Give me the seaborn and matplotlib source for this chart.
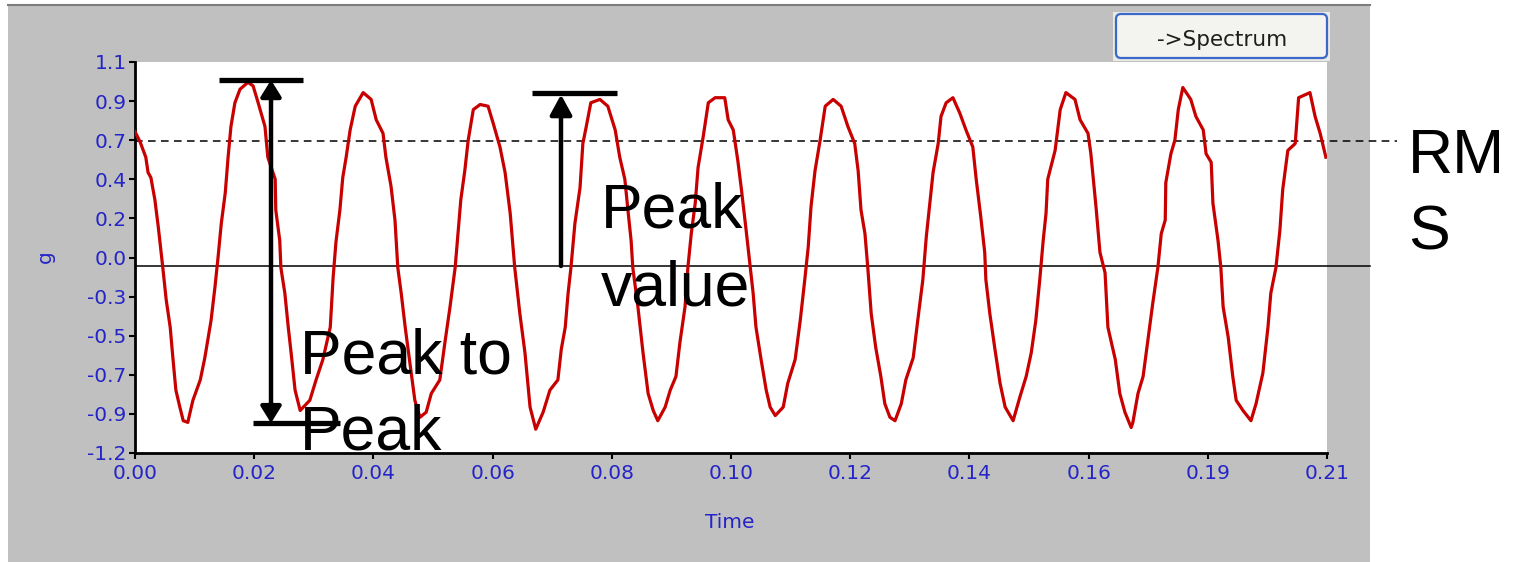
import numpy as np
import pandas as pd
import matplotlib
matplotlib.use("Agg")
import matplotlib.pyplot as plt
import seaborn as sns
from matplotlib.patches import Rectangle, FancyBboxPatch
from matplotlib.lines import Line2D
from matplotlib.transforms import IdentityTransform

# ---------------- data ----------------
time_ms = [
    0, 0.9, 1.9, 2.3, 2.8, 3.5, 4.1, 4.6, 4.9, 5.5,
    6.2, 6.7, 7.2, 7.9, 8.5, 9.3, 10.2, 11.5, 12.3, 13.4,
    14.1, 14.6, 15.2, 15.9, 16.4, 16.9, 17.6, 18.5, 19.9, 20.8,
    21.7, 22.9, 23.4, 24.7, 24.8, 25.5, 25.7, 26.4, 27.0, 27.5,
    28.2, 29.1, 30.8, 31.9, 33.1, 34.4, 34.9,
    35.4, 36.1, 36.6, 37.2, 37.9, 38.8, 40.2, 41.6, 42.5, 43.7,
    44.2, 45.1, 45.8, 46.3, 46.9, 47.6, 48.5, 49.3, 50.2, 51.3,
    52.2, 53.7, 54.6, 55.5, 56.4, 56.9, 57.4, 58.1, 58.7, 59.6,
    60.8, 62.2, 63.1, 64.3, 65.2, 66.1, 66.9, 67.8, 68.7, 69.6,
    70.6, 71.9, 73.1, 74.5, 75.1, 75.8, 76.3, 76.8, 77.5, 78.4,
    78.9, 79.5, 80.3, 81.9, 83.3, 84.6, 85.4, 86.3, 86.9, 87.4,
    87.7, 88.6, 89.5, 90.4, 91.3, 92.1, 93.4, 94.3, 95.3, 96.0,
    96.9, 97.4, 98.0, 98.7, 99.2, 100.1, 101.0, 102.2, 103.9, 104.5,
    105.4,
    106.2, 106.8, 107.6, 108.4, 108.9, 109.4, 110.3, 111.2, 111.9, 112.8,
    114.2, 115.0, 116.3, 117.2, 118.0, 118.6, 119.1, 119.8, 120.7, 121.6,
    123.0, 124.4, 125.6, 126.8, 127.4, 127.9, 128.6, 129.1, 129.7, 130.5,
    131.4, 132.1, 133.0, 133.9, 135.0, 135.8, 137.1, 137.9, 138.8, 139.4,
    140.1,
    140.6, 141.5, 142.0, 142.9, 144.1, 145.3, 146.4, 147.6, 148.2, 149.0,
    149.7, 149.9, 150.6, 151.5, 152.4, 153.3, 154.7, 155.9, 157.0, 157.9,
    158.7, 159.4, 160.0, 160.5, 160.8, 162.1, 163.0, 164.0, 165.6, 166.5,
    167.9, 168.4, 169.3, 170.0, 170.9, 171.4, 172.7, 173.5, 174.4, 175.5,
    175.8, 176.7, 177.6, 178.5, 179.3, 180.2, 180.8, 181.5, 181.6, 182.5,
    183.2, 183.8, 184.6, 186.0, 186.9, 188.2, 188.7, 189.6, 189.9, 190.8,
    191.3, 191.7, 192.6, 193.4, 194.0, 195.2, 196.6, 197.5, 198.7, 199.6,
    200.1, 201.0, 201.7, 202.2, 203.1, 204.4, 205.0, 207.0, 207.9, 208.8,
    209.8,
]
accel_g = [
    0.69, 0.63, 0.54, 0.45, 0.42, 0.29, 0.13, -0.02, -0.11, -0.30,
    -0.46, -0.65, -0.83, -0.93, -1.01, -1.02, -0.89, -0.77, -0.64, -0.42,
    -0.22, -0.06, 0.15, 0.33, 0.54, 0.72, 0.86, 0.94, 0.98, 0.96,
    0.86, 0.72, 0.54, 0.41, 0.23, 0.05, -0.11, -0.26, -0.46, -0.61,
    -0.83, -0.95, -0.89, -0.77, -0.65, -0.46, -0.17,
    0.04, 0.23, 0.42, 0.54, 0.70, 0.84, 0.92, 0.88, 0.76, 0.68,
    0.54, 0.37, 0.17, -0.11, -0.26, -0.46, -0.69, -0.89, -0.99, -0.96,
    -0.85, -0.77, -0.55, -0.34, -0.11, 0.09, 0.29, 0.46, 0.64, 0.82,
    0.85, 0.84, 0.74, 0.60, 0.45, 0.21, -0.11, -0.38, -0.61, -0.93,
    -1.06, -0.96, -0.83, -0.77, -0.59, -0.46, -0.26, -0.11, 0.15, 0.36,
    0.62, 0.72, 0.86, 0.88, 0.84, 0.70, 0.54, 0.41, 0.21, 0.05,
    -0.11, -0.34, -0.61, -0.85, -0.95, -1.01, -0.93, -0.83, -0.75, -0.55,
    -0.34, -0.11, 0.09, 0.27, 0.48, 0.66, 0.86, 0.89, 0.89, 0.76,
    0.70,
    0.52, 0.36, 0.13, -0.11, -0.26, -0.46, -0.65, -0.83, -0.93, -0.98,
    -0.93, -0.79, -0.65, -0.42, -0.18, 0.01, 0.25, 0.46, 0.64, 0.84,
    0.88, 0.84, 0.72, 0.62, 0.46, 0.23, 0.09, -0.11, -0.38, -0.58,
    -0.75, -0.91, -0.99, -1.01, -0.91, -0.77, -0.64, -0.42, -0.18, 0.07,
    0.29,
    0.45, 0.62, 0.78, 0.86, 0.89, 0.80, 0.70, 0.60, 0.41, 0.19,
    -0.02, -0.18, -0.38, -0.59, -0.79, -0.93, -1.01, -0.87, -0.75, -0.61,
    -0.42, -0.18, 0.05, 0.21, 0.41, 0.58, 0.82, 0.92, 0.88, 0.76,
    0.68, 0.56, 0.25, -0.02, -0.14, -0.46, -0.65, -0.85, -0.96, -1.05,
    -1.02, -0.85, -0.75, -0.52, -0.32, -0.11, 0.09, 0.17, 0.39, 0.56,
    0.64, 0.82, 0.95, 0.88, 0.78, 0.70, 0.56, 0.51, 0.27, 0.05,
    -0.11, -0.34, -0.52, -0.75, -0.89, -0.95, -1.01, -0.91, -0.73, -0.46,
    -0.26, -0.11, 0.11, 0.35, 0.58, 0.62, 0.89, 0.92, 0.78, 0.68,
    0.54,
]

x_tick_labels = ["0.00", "0.02", "0.04", "0.06", "0.08", "0.10",
                 "0.12", "0.14", "0.16", "0.19", "0.21"]
y_tick_labels = ["-1.2", "-0.9", "-0.7", "-0.5", "-0.3", "0.0",
                 "0.2", "0.4", "0.7", "0.9", "1.1"]
x_min, x_max = 0.0, 0.21
y_min, y_max = -1.2, 1.1

rms_level = 0.635        # dashed RMS line
baseline_level = -0.10   # solid reference line
p2p_top = 0.994          # peak-to-peak upper marker
p2p_bottom = -1.024      # peak-to-peak lower marker
peak_level = 0.918       # peak value marker

# ---------------- figure ----------------
W, H = 1517, 562
fig = plt.figure(figsize=(W / 100, H / 100), dpi=100)
fig.patch.set_facecolor("white")


def fx(px):
    return px / W


def fy(py):
    return 1 - py / H


# grey application panel
fig.add_artist(Rectangle((fx(8), 0), fx(1370) - fx(8), fy(5), transform=fig.transFigure,
                         facecolor="#C0C0C0", edgecolor="none", zorder=-10))
fig.add_artist(Line2D([fx(8), fx(1370)], [fy(5), fy(5)], transform=fig.transFigure,
                      color="#7C7C7C", lw=1.5, zorder=-9))

ax = fig.add_axes([fx(135), fy(453), fx(1327) - fx(135), fy(62) - fy(453)])
ax.set_facecolor("white")

df = pd.DataFrame({"Time": np.array(time_ms) / 1000.0, "g": accel_g})
sns.lineplot(data=df, x="Time", y="g", ax=ax, color="#C80000", lw=2.3,
             sort=False, estimator=None, zorder=3)

ax.set_xlim(x_min, x_max)
ax.set_ylim(y_min, y_max)
ax.set_xticks(np.linspace(x_min, x_max, len(x_tick_labels)))
ax.set_xticklabels(x_tick_labels)
ax.set_yticks(np.linspace(y_min, y_max, len(y_tick_labels)))
ax.set_yticklabels(y_tick_labels)

for s in ["top", "right"]:
    ax.spines[s].set_visible(False)
for s in ["left", "bottom"]:
    ax.spines[s].set_linewidth(2.0)
    ax.spines[s].set_color("black")

tick_blue = "#2424C8"
ax.tick_params(axis="both", direction="out", length=4, width=1.5, color="black",
               labelcolor=tick_blue, labelsize=14.5)
ax.tick_params(axis="y", pad=2)
ax.tick_params(axis="x", pad=4)
for lab in ax.get_xticklabels() + ax.get_yticklabels():
    lab.set_family("DejaVu Sans")

ax.set_xlabel("Time", fontsize=14.5, color=tick_blue, va="center", ha="center")
ax.xaxis.set_label_coords((730 - 135) / 1192, (453 - 523) / 391)
ax.set_ylabel("g", fontsize=14.5, color=tick_blue, va="center", ha="center")
ax.yaxis.set_label_coords((45 - 135) / 1192, (453 - 257) / 391)

# reference lines
ax.axhline(baseline_level, xmin=0, xmax=(1370 - 135) / 1192, color="black", lw=1.1,
           clip_on=False, zorder=2)
ax.axhline(rms_level, xmin=0, xmax=(1397 - 135) / 1192, color="black", lw=1.1,
           ls=(0, (5, 3.5)), clip_on=False, zorder=2)

# peak-to-peak marker
ax.hlines(p2p_top, 0.0148, 0.0296, color="black", lw=3.8, zorder=5, clip_on=False)
ax.hlines(p2p_bottom, 0.0208, 0.0361, color="black", lw=3.8, zorder=5, clip_on=False)
ax.annotate("", xy=(0.02396, p2p_bottom), xytext=(0.02396, p2p_top),
            arrowprops=dict(arrowstyle="<|-|>,head_length=0.45,head_width=0.28",
                            lw=3.2, color="black", mutation_scale=22,
                            shrinkA=0, shrinkB=0), zorder=5)

# peak value marker
ax.hlines(peak_level, 0.0699, 0.0849, color="black", lw=3.8, zorder=5, clip_on=False)
ax.annotate("", xy=(0.07505, peak_level - 0.01), xytext=(0.07505, baseline_level),
            arrowprops=dict(arrowstyle="-|>,head_length=0.55,head_width=0.3",
                            lw=3.2, color="black", mutation_scale=22,
                            shrinkA=0, shrinkB=0), zorder=5)

# annotation texts
big = dict(fontsize=45, family="Liberation Sans", color="black",
           ha="left", va="baseline", zorder=10)
fig.text(fx(300), fy(373), "Peak to", **big)
fig.text(fx(300), fy(450), "Peak", **big)
fig.text(fx(601), fy(228), "Peak", **big)
fig.text(fx(601), fy(305), "value", **big)
fig.text(fx(1408), fy(173), "RM", **big)
fig.text(fx(1408), fy(250), "S", **big)

# "->Spectrum" button
fig.add_artist(Rectangle((1113, H - 61), 217, 49, transform=IdentityTransform(),
                         facecolor="#EAEAE5", edgecolor="none", zorder=4))
fig.add_artist(FancyBboxPatch((1116, H - 58), 211, 44,
                              boxstyle="round,pad=0,rounding_size=5",
                              transform=IdentityTransform(),
                              facecolor="#F3F3EF", edgecolor="#3A68C8", lw=1.6, zorder=5))
fig.text(fx(1222), fy(46), "->Spectrum", ha="center", va="baseline",
         fontsize=15.5, family="DejaVu Sans", color="#1E1E1E", zorder=6)

fig.savefig("out.png", dpi=100)
